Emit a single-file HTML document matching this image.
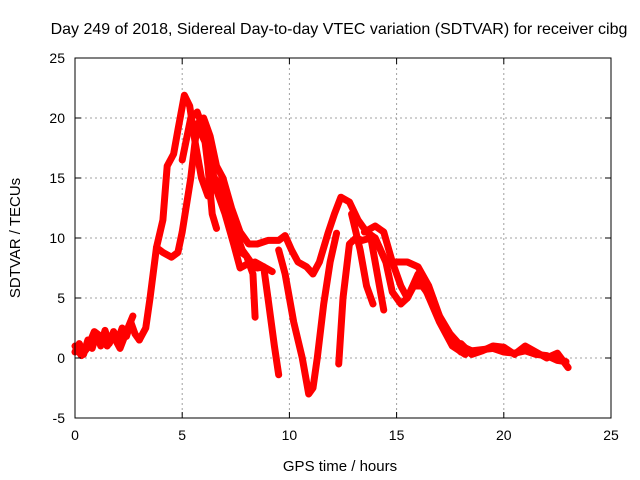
<!DOCTYPE html>
<html><head><meta charset="utf-8"><style>
body{margin:0;background:#fff}
svg{display:block;font-family:"Liberation Sans",sans-serif}
</style></head><body>
<svg id="chart" width="640" height="480">
<text x="339" y="34" text-anchor="middle" font-size="16">Day 249 of 2018, Sidereal Day-to-day VTEC variation (SDTVAR) for receiver cibg</text>
<text x="340" y="471" text-anchor="middle" font-size="15">GPS time / hours</text>
<text transform="translate(20,238) rotate(-90)" text-anchor="middle" font-size="15">SDTVAR / TECUs</text>
<g id="grid"></g><g id="series"></g><g id="axes"></g>
</svg>
<script>
const xTicks=[0,5,10,15,20,25];
const yTicks=[-5,0,5,10,15,20,25];
const track0=[[0,0.5],[0.2,1.2],[0.4,0.3],[0.6,1.5],[0.8,0.8],[1.0,2],[1.2,1],[1.4,2.3],[1.6,1.2],[1.8,2.2],[2.0,1.5],[2.2,2.5],[2.4,1.8],[2.6,3],[2.8,2.0],[3.0,1.5]];
const track0b=[[0,1],[0.3,0.2],[0.6,0.9],[0.9,2.2],[1.2,1.8],[1.5,1],[1.8,1.8],[2.1,0.8],[2.4,2.2],[2.7,3.5]];
const track1=[[3.0,1.5],[3.3,2.5],[3.5,5],[3.8,9.2],[4.1,11.5],[4.3,16],[4.6,17],[4.8,19],[5.1,21.9],[5.35,21],[5.6,18],[5.9,15],[6.2,13.5],[6.6,14.5],[7.0,13.5],[7.4,11],[7.8,9],[8.2,8],[8.5,7.5],[8.8,7.6],[9.0,5],[9.3,1],[9.5,-1.4]];
const track2=[[3.8,9.2],[4.1,8.8],[4.5,8.4],[4.8,8.8],[5.0,10.5],[5.4,15],[5.7,19.5],[6.0,20],[6.3,18.5],[6.6,16],[6.9,15],[7.3,12.5],[7.7,10.5],[8.1,9.5],[8.5,9.5],[9.0,9.8],[9.5,9.8],[9.8,10.2],[10.1,9],[10.4,8],[10.8,7.6],[11.1,7],[11.4,8],[11.8,10.4],[12.1,12],[12.4,13.4],[12.8,13],[13.2,11.5],[13.6,10.5],[14.0,10],[14.5,8],[15.0,8],[15.5,8],[16.0,7.6],[16.5,6],[17.0,3.5],[17.5,2],[18,1],[18.5,0.6],[19,0.7],[19.5,0.8],[20,0.5],[20.5,0.4],[21,0.6],[21.5,0.3],[22,0.2],[22.5,-0.2],[22.9,-0.3]];
const track3=[[5.0,16.5],[5.4,20],[5.7,20.5],[6.0,19],[6.2,16],[6.4,12],[6.6,10.8]];
const track4=[[6.5,15],[7.0,14],[7.3,11],[7.6,9],[8.0,8.5],[8.3,7],[8.4,3.4]];
const track5=[[5.8,19],[6.2,17.5],[6.6,14],[7.0,12],[7.4,9.5],[7.7,7.5],[8.0,7.8],[8.4,8],[8.8,7.6],[9.2,7.2]];
const track6=[[9.5,9],[9.8,7],[10.2,3],[10.6,0],[10.9,-3],[11.1,-2.5],[11.3,0],[11.6,4.5],[11.9,8],[12.2,10.4]];
const track7=[[12.3,-0.5],[12.5,5],[12.8,9.5],[13.1,10],[13.4,9.8],[13.8,10],[14.1,7],[14.3,5],[14.4,4]];
const track8=[[13.5,10.5],[14.0,11],[14.4,10.5],[14.8,8],[15.2,6],[15.5,5],[15.8,6],[16.2,6],[16.6,5],[17,3.5],[17.5,1.5],[18,0.5]];
const track9=[[12.9,12],[13.3,9],[13.6,6],[13.9,4.5]];
const track10=[[14.0,10],[14.5,8],[14.8,5.5],[15.2,4.5],[15.5,5],[16,7],[16.4,5.5],[17,3],[17.6,1],[18.2,0.3]];
const track11=[[18,1.2],[18.5,0.3],[19,0.6],[19.5,1.0],[20,0.9],[20.5,0.3],[21,1],[21.5,0.5],[22,0],[22.5,0.4],[23,-0.8]];
const tracks=[track0,track0b,track1,track2,track3,track4,track5,track6,track7,track8,track9,track10,track11];
const X0=75,X1=611,Y0=58,Y1=418;
const xs=t=>X0+(t-0)/25*(X1-X0);
const ys=v=>Y1-(v+5)/30*(Y1-Y0);
const NS='http://www.w3.org/2000/svg';
const grid=document.getElementById('grid'),axes=document.getElementById('axes'),ser=document.getElementById('series');
function mk(tag,attrs,parent){const e=document.createElementNS(NS,tag);for(const k in attrs)e.setAttribute(k,attrs[k]);parent.appendChild(e);return e;}
xTicks.forEach(t=>{
  if(t>0&&t<25){const g=mk('line',{x1:xs(t),x2:xs(t),y1:Y0,y2:Y1,stroke:'#a0a0a0','stroke-dasharray':'2,3'},grid);
  
  }
  const l=mk('text',{x:xs(t),y:Y1+22,'text-anchor':'middle','font-size':14},axes);l.textContent=t;
  
  
  mk('line',{x1:xs(t),x2:xs(t),y1:Y1,y2:Y1-6,stroke:'#000'},axes);
  mk('line',{x1:xs(t),x2:xs(t),y1:Y0,y2:Y0+6,stroke:'#000'},axes);
});
yTicks.forEach(v=>{
  if(v>-5&&v<25){const g=mk('line',{x1:X0,x2:X1,y1:ys(v),y2:ys(v),stroke:'#a0a0a0','stroke-dasharray':'2,3'},grid);
  
  }
  const l=mk('text',{x:X0-10,y:ys(v)+5,'text-anchor':'end','font-size':14},axes);l.textContent=v;
  
  
  mk('line',{x1:X0,x2:X0+6,y1:ys(v),y2:ys(v),stroke:'#000'},axes);
  mk('line',{x1:X1,x2:X1-6,y1:ys(v),y2:ys(v),stroke:'#000'},axes);
});
const fr=mk('rect',{x:X0,y:Y0,width:X1-X0,height:Y1-Y0,fill:'none',stroke:'#000'},axes);


tracks.forEach((tr,i)=>{
  const p=mk('polyline',{points:tr.map(d=>xs(d[0])+','+ys(d[1])).join(' '),fill:'none',stroke:'#ff0000','stroke-width':7,'stroke-linejoin':'round','stroke-linecap':'round'},ser);
  
  
});
</script>
</body></html>
